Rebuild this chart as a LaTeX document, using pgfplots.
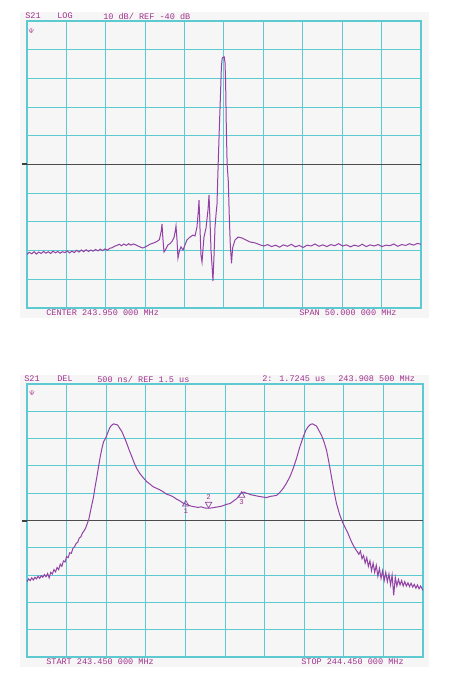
\documentclass[border=0pt]{standalone}
\usepackage{pgfplots}
\pgfplotsset{compat=1.18}
\usepackage{fontspec}
\newfontfamily\dm{Liberation Mono}
\definecolor{gridc}{RGB}{92,202,208}
\definecolor{trc}{RGB}{146,66,164}
\definecolor{txtc}{RGB}{160,50,140}
\definecolor{bgc}{RGB}{246,246,246}
\pgfplotsset{vna/.style={scale only axis, anchor=south west,
  axis line style={gridc, line width=0.8pt},
  grid=major, major grid style={gridc, line width=0.75pt},
  xticklabels={}, yticklabels={}, ticklabel style={text opacity=0, opacity=0},
  major tick length=0pt, clip=true}}
\newcommand{\lbl}[3]{\node[anchor=west, inner sep=0pt, text=txtc, font=\dm\fontsize{6.4}{7}\selectfont] at (#1pt,#2pt) {#3};}
\begin{document}
\begin{tikzpicture}
\useasboundingbox (0,0) rectangle (347.25pt,508.5pt);
\fill[white] (0,0) rectangle (347.25pt,508.5pt);
\fill[bgc] (15pt,270pt) rectangle (321.75pt,499.5pt);
\fill[bgc] (15pt,8.25pt) rectangle (321.75pt,227.25pt);
% top panel
\begin{axis}[vna, at={(20.25pt,277.5pt)}, width=295.5pt, height=215.25pt,
  xmin=218.95, xmax=268.95, ymin=-90, ymax=10,
  xtick={218.95,223.95,228.95,233.95,238.95,243.95,248.95,253.95,258.95,263.95,268.95},
  ytick={-90,-80,-70,-60,-50,-40,-30,-20,-10,0,10}]
\addplot[black!70, line width=0.7pt] coordinates {(218.95,-40) (268.95,-40)};
\addplot[trc, line width=0.75pt] coordinates {
(218.95,-71.3) (219.25,-70.6) (219.55,-71.1) (219.85,-70.4) (220.15,-71.2) (220.45,-70.5)
(220.75,-71.0) (221.05,-70.3) (221.35,-70.9) (221.65,-70.4) (221.95,-71.0) (222.25,-70.2)
(222.55,-70.8) (222.85,-70.3) (223.15,-70.9) (223.45,-70.4) (223.75,-70.7) (224.05,-70.1)
(224.35,-70.8) (224.65,-70.2) (224.95,-70.7) (225.25,-69.9) (225.55,-70.5) (225.85,-69.8)
(226.15,-70.4) (226.45,-69.7) (226.75,-70.3) (227.05,-69.8) (227.35,-70.2) (227.65,-69.6)
(227.95,-70.1) (228.25,-69.5) (228.55,-70.0) (228.85,-69.4) (229.15,-69.9) (229.45,-69.2)
(229.75,-69.0) (230.05,-68.5) (230.35,-68.2) (230.65,-67.8) (230.95,-68.3) (231.25,-67.7)
(231.55,-68.2) (231.85,-67.6) (232.15,-68.1) (232.45,-67.7) (232.75,-68.0) (233.05,-68.4)
(233.35,-68.8) (233.65,-69.1) (233.95,-68.7) (234.25,-68.3) (234.55,-67.8) (234.85,-67.5)
(235.15,-67.2) (235.45,-66.8) (235.75,-66.2) (236.00,-63.0) (236.08,-60.7) (236.20,-66.0)
(236.34,-70.5) (236.59,-69.4) (236.84,-68.0) (237.10,-67.6) (237.35,-66.8) (237.60,-65.5)
(237.78,-63.0) (237.86,-61.4) (237.98,-66.0) (238.11,-72.6) (238.30,-70.0) (238.49,-68.7)
(238.75,-69.8) (239.00,-68.0) (239.25,-66.3) (239.63,-65.3) (240.01,-64.6) (240.27,-64.9)
(240.52,-61.8) (240.70,-56.0) (240.78,-52.4) (240.90,-62.0) (241.03,-71.5) (241.16,-74.0)
(241.30,-69.0) (241.41,-65.3) (241.67,-62.1) (241.92,-55.8) (242.05,-50.6) (242.18,-60.0)
(242.30,-69.8) (242.45,-76.0) (242.55,-80.6) (242.68,-72.0) (242.81,-61.8) (242.95,-57.0)
(243.06,-54.0) (243.21,-40.0) (243.35,-28.0) (243.50,-16.0) (243.62,-6.0) (243.72,-3.0)
(243.85,-2.6) (243.98,-2.5) (244.08,-4.5) (244.16,-12.0) (244.25,-28.0) (244.35,-40.0)
(244.50,-46.0) (244.62,-58.0) (244.75,-68.0) (244.90,-74.4) (245.05,-69.0) (245.35,-66.3)
(245.73,-65.3) (246.24,-65.6) (246.74,-66.3) (247.25,-67.0) (247.88,-67.3) (248.52,-68.0)
(249.0,-68.4) (249.5,-67.9) (250.0,-68.6) (250.5,-68.1) (251.0,-68.8) (251.5,-68.0)
(252.0,-68.5) (252.5,-67.8) (253.0,-68.7) (253.5,-68.2) (254.0,-68.9) (254.5,-68.1)
(255.0,-68.4) (255.5,-67.7) (256.0,-68.5) (256.5,-68.0) (257.0,-68.6) (257.5,-67.9)
(258.0,-68.3) (258.5,-67.6) (259.0,-68.4) (259.5,-68.0) (260.0,-68.7) (260.5,-68.1)
(261.0,-68.5) (261.5,-67.8) (262.0,-68.6) (262.5,-68.0) (263.0,-68.4) (263.5,-67.9)
(264.0,-68.6) (264.5,-68.1) (265.0,-68.3) (265.5,-67.7) (266.0,-68.5) (266.5,-67.9)
(267.0,-68.2) (267.5,-67.6) (268.0,-68.1) (268.5,-67.5) (268.95,-67.8)};
\end{axis}
% bottom panel
\begin{axis}[vna, at={(20.25pt,15.75pt)}, width=297pt, height=204.75pt,
  xmin=243.45, xmax=244.45, ymin=-1, ymax=4,
  xtick={243.45,243.55,243.65,243.75,243.85,243.95,244.05,244.15,244.25,244.35,244.45},
  ytick={-1,-0.5,0,0.5,1,1.5,2,2.5,3,3.5,4}]
\addplot[black!70, line width=0.7pt] coordinates {(243.45,1.5) (244.45,1.5)};
\addplot[trc, line width=0.75pt] coordinates {
(243.450,0.38) (243.454,0.43) (243.458,0.40) (243.462,0.45) (243.466,0.41) (243.470,0.46)
(243.474,0.43) (243.478,0.48) (243.482,0.44) (243.486,0.49) (243.490,0.46) (243.494,0.51)
(243.498,0.47) (243.502,0.53) (243.506,0.45) (243.510,0.55) (243.514,0.52) (243.518,0.60)
(243.522,0.56) (243.526,0.64) (243.530,0.60) (243.534,0.70) (243.538,0.66) (243.542,0.76)
(243.546,0.74) (243.550,0.84) (243.554,0.82) (243.558,0.91) (243.562,0.90) (243.566,0.99)
(243.570,1.02) (243.574,1.08) (243.578,1.10) (243.582,1.18) (243.586,1.20) (243.590,1.27)
(243.594,1.31) (243.598,1.36) (243.602,1.44) (243.606,1.52) (243.610,1.66) (243.614,1.80)
(243.618,1.93) (243.622,2.12) (243.6265,2.30) (243.631,2.50) (243.635,2.67) (243.6395,2.83)
(243.6433,2.94) (243.650,3.03) (243.6545,3.12) (243.6584,3.19) (243.663,3.24) (243.6685,3.27)
(243.6735,3.26) (243.6786,3.25) (243.684,3.19) (243.6895,3.13) (243.696,3.02) (243.7021,2.91)
(243.708,2.79) (243.7147,2.67) (243.721,2.55) (243.7273,2.45) (243.735,2.36) (243.744,2.28)
(243.7525,2.21) (243.760,2.17) (243.768,2.12) (243.777,2.09) (243.786,2.06) (243.795,2.02)
(243.803,1.98) (243.812,1.96) (243.8197,1.93) (243.828,1.89) (243.836,1.86) (243.844,1.82)
(243.8508,1.80) (243.858,1.78) (243.866,1.76) (243.874,1.75) (243.882,1.74) (243.890,1.75)
(243.898,1.73) (243.9085,1.7245) (243.916,1.73) (243.924,1.74) (243.932,1.75) (243.940,1.76)
(243.948,1.78) (243.956,1.80) (243.9626,1.81) (243.970,1.85) (243.9794,1.90) (243.986,1.96)
(243.992,2.01) (243.998,2.02) (244.004,2.00) (244.0088,1.99) (244.016,1.97) (244.024,1.96)
(244.0298,1.95) (244.037,1.94) (244.045,1.93) (244.055,1.92) (244.063,1.94) (244.072,1.95)
(244.0803,1.96) (244.088,2.01) (244.0971,2.09) (244.105,2.18) (244.1139,2.30) (244.122,2.45)
(244.1307,2.64) (244.139,2.85) (244.1475,3.03) (244.154,3.15) (244.1601,3.22) (244.166,3.26)
(244.171,3.27) (244.176,3.25) (244.1811,3.23) (244.187,3.15) (244.1937,3.06) (244.200,2.94)
(244.2063,2.79) (244.212,2.58) (244.2189,2.30) (244.225,2.05) (244.2315,1.81) (244.239,1.62)
(244.2466,1.47) (244.254,1.36) (244.2609,1.26) (244.267,1.15) (244.2735,1.05) (244.280,0.97)
(244.284,0.93) (244.288,0.88) (244.292,0.94) (244.296,0.80) (244.300,0.86) (244.304,0.72)
(244.308,0.82) (244.312,0.66) (244.316,0.76) (244.320,0.58) (244.324,0.72) (244.328,0.55)
(244.332,0.68) (244.336,0.48) (244.340,0.62) (244.344,0.44) (244.348,0.58) (244.352,0.40)
(244.356,0.55) (244.360,0.38) (244.364,0.52) (244.368,0.32) (244.372,0.50) (244.376,0.13)
(244.380,0.46) (244.384,0.30) (244.388,0.42) (244.392,0.32) (244.396,0.40) (244.400,0.30)
(244.404,0.38) (244.408,0.30) (244.412,0.36) (244.416,0.29) (244.420,0.35) (244.424,0.28)
(244.428,0.33) (244.432,0.26) (244.436,0.32) (244.440,0.25) (244.444,0.30) (244.450,0.22)};
\addplot[only marks, mark=triangle, mark size=2.8pt, trc, mark options={line width=0.5pt},
  nodes near coords, point meta=explicit symbolic,
  every node near coord/.style={anchor=north, inner sep=0.5pt, yshift=-2.5pt, text=txtc, text opacity=1, opacity=1, font=\dm\fontsize{5.5}{6}\selectfont}]
  coordinates {(243.8508,1.80) [1] (243.992,1.96) [3]};
\addplot[only marks, mark=triangle, mark size=2.8pt, trc, mark options={line width=0.5pt, rotate=180},
  nodes near coords, point meta=explicit symbolic,
  every node near coord/.style={anchor=south, inner sep=0.5pt, yshift=2.5pt, text=txtc, text opacity=1, opacity=1, font=\dm\fontsize{5.5}{6}\selectfont}]
  coordinates {(243.9085,1.80) [2]};
\end{axis}
% reference markers on the left edge
\draw[black!75, line width=1.2pt] (16.5pt,385.5pt) -- (20.25pt,385.5pt);
\draw[black!75, line width=1.2pt] (16.5pt,117.75pt) -- (20.25pt,117.75pt);
% small glyphs in the top-left corners
\node[text=txtc, inner sep=0pt, font=\fontsize{5}{5}\selectfont] at (23.5pt,485.25pt) {$\Psi$};
\node[text=txtc, inner sep=0pt, font=\fontsize{5}{5}\selectfont] at (24pt,213.75pt) {$\Psi$};
% texts
\lbl{18.75}{496.5}{S21}
\lbl{42.75}{496.5}{LOG}
\lbl{77.25}{496.5}{10 dB/ REF -40 dB}
\lbl{34.5}{273.75}{CENTER 243.950 000 MHz}
\lbl{224.25}{273.75}{SPAN}
\lbl{243.5}{273.75}{50.000 000 MHz}
\lbl{18}{224.25}{S21}
\lbl{42.75}{224.25}{DEL}
\lbl{72.75}{224.25}{500 ns/ REF 1.5 us}
\lbl{196.5}{224.25}{2: 1.7245 us}
\lbl{253.5}{224.25}{243.908 500 MHz}
\lbl{34.5}{12}{START 243.450 000 MHz}
\lbl{225.75}{12}{STOP 244.450 000 MHz}
\end{tikzpicture}
\end{document}
